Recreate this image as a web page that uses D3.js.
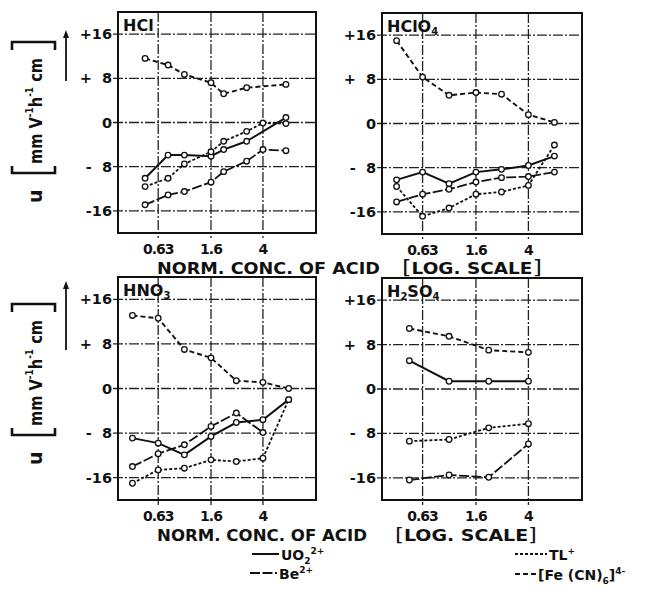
<!DOCTYPE html>
<html>
<head>
<meta charset="utf-8">
<script src="https://cdn.jsdelivr.net/npm/d3@7"></script>
<style>
body { margin: 0; background: #fff; }
svg text { font-family: "DejaVu Sans", sans-serif; fill: #111; font-weight: bold; }
</style>
</head>
<body>
<svg id="chart" width="648" height="602"></svg>
<script>
// axis ticks
var yTicks = [16, 8, 0, -8, -16];
var yTickLabels = ["+16", "+\u20078", "0", "-\u20078", "-16"];
var xTicks = [0.63, 1.6, 4];
var xTickLabels = ["0.63", "1.6", "4"];

// HCl
var hclConc = [0.5, 0.75, 1, 1.6, 2, 3, 4, 6];
var hclUO2  = [-10.1, -5.9, -5.9, -6.1, -4.9, -3.4, null, 0.9];
var hclBe   = [-14.9, -13.1, -12.5, -10.8, -8.9, -7.0, -4.9, -5.1];
var hclTl   = [-11.6, -10.1, -7.5, -5.3, -3.4, -1.6, -0.1, -0.2];
var hclFe   = [11.6, 10.4, 8.7, 7.2, 5.2, 6.3, null, 6.9];

// HClO4
var hclo4Conc = [0.4, 0.63, 1, 1.6, 2.5, 4, 6.3];
var hclo4UO2  = [-10.2, -8.8, -10.9, -8.8, -8.3, -7.6, -5.9];
var hclo4Be   = [-14.2, -12.8, -11.9, -10.6, -9.8, -9.6, -8.8];
var hclo4Tl   = [-11.4, -16.8, -15.3, -12.8, -12.4, -11.2, -3.9];
var hclo4Fe   = [15.0, 8.4, 5.1, 5.6, 5.3, 1.6, 0.2];

// HNO3
var hno3Conc = [0.4, 0.63, 1, 1.6, 2.5, 4, 6.3];
var hno3UO2  = [-8.9, -9.8, -11.9, -8.6, -6.1, -5.6, -2.0];
var hno3Be   = [-14.0, -11.7, -10.1, -6.8, -4.4, -7.9, null];
var hno3Tl   = [-17.0, -14.6, -14.3, -12.8, -13.1, -12.5, -2.0];
var hno3Fe   = [13.1, 12.6, 7.0, 5.5, 1.4, 1.1, 0.0];

// H2SO4
var h2so4Conc = [0.5, 1, 2, 4];
var h2so4UO2  = [5.1, 1.4, 1.4, 1.4];
var h2so4Be   = [-16.4, -15.5, -15.9, -9.9];
var h2so4Tl   = [-9.4, -9.1, -7.0, -6.25];
var h2so4Fe   = [10.9, 9.5, 7.0, 6.6];

var styles = {
    UO2: {dash: null, width: 2},
    Be:  {dash: "10,2.5", width: 1.8},
    Tl:  {dash: "3,2", width: 1.8},
    Fe:  {dash: "5,3", width: 1.9}
};

var panels = [
    {name: "HCl", x: 118, y: 12, w: 198, h: 221, conc: hclConc,
     series: {UO2: hclUO2, Be: hclBe, Tl: hclTl, Fe: hclFe}},
    {name: "HClO4", x: 382, y: 13, w: 200, h: 221, conc: hclo4Conc,
     series: {UO2: hclo4UO2, Be: hclo4Be, Tl: hclo4Tl, Fe: hclo4Fe}},
    {name: "HNO3", x: 118, y: 277, w: 198, h: 223, conc: hno3Conc,
     series: {UO2: hno3UO2, Be: hno3Be, Tl: hno3Tl, Fe: hno3Fe}},
    {name: "H2SO4", x: 382, y: 278, w: 200, h: 222, conc: h2so4Conc,
     series: {UO2: h2so4UO2, Be: h2so4Be, Tl: h2so4Tl, Fe: h2so4Fe}}
];

var svg = d3.select("#chart");

function panelLabel(g, name) {
    var t = g.append("text").attr("x", 5).attr("y", 19).attr("font-size", 16);
    // letters normal, digits as subscripts
    var parts = name.match(/[A-Za-z]+|\d/g);
    var shifted = false;
    parts.forEach(function(p) {
        if (/\d/.test(p)) {
            t.append("tspan").attr("font-size", 10).attr("dy", 3).text(p);
            shifted = true;
        } else {
            t.append("tspan").attr("dy", shifted ? -3 : 0).text(p);
            shifted = false;
        }
    });
}

panels.forEach(function(p) {
    var x = d3.scaleLog().domain([0.31, 10.2]).range([0, p.w]);
    var y = d3.scaleLinear().domain([-20, 20]).range([p.h, 0]);
    var g = svg.append("g").attr("transform", "translate(" + p.x + "," + p.y + ")");

    // grid
    g.selectAll(".hgrid").data(yTicks).enter().append("line")
        .attr("x1", -5).attr("x2", p.w)
        .attr("y1", function(d){ return y(d); }).attr("y2", function(d){ return y(d); })
        .attr("stroke", "#222").attr("stroke-width", 1.3)
        .attr("stroke-dasharray", "10,2,2,2");
    g.selectAll(".vgrid").data(xTicks).enter().append("line")
        .attr("y1", 0).attr("y2", p.h + 5)
        .attr("x1", function(d){ return x(d); }).attr("x2", function(d){ return x(d); })
        .attr("stroke", "#222").attr("stroke-width", 1.3)
        .attr("stroke-dasharray", "10,2,2,2");

    g.append("rect").attr("width", p.w).attr("height", p.h)
        .attr("fill", "none").attr("stroke", "#111").attr("stroke-width", 2);

    // tick labels
    g.selectAll(".ylab").data(yTicks).enter().append("text")
        .attr("x", -6).attr("y", function(d){ return y(d) + 5; })
        .attr("text-anchor", "end").attr("font-size", 14.5)
        .text(function(d, i){ return yTickLabels[i]; });
    g.selectAll(".xlab").data(xTicks).enter().append("text")
        .attr("x", function(d){ return x(d); }).attr("y", p.h + 21)
        .attr("text-anchor", "middle").attr("font-size", 14)
        .attr("letter-spacing", -1)
        .text(function(d, i){ return xTickLabels[i]; });

    panelLabel(g, p.name);

    var line = d3.line()
        .x(function(d){ return x(d[0]); })
        .y(function(d){ return y(d[1]); });

    Object.keys(p.series).forEach(function(key) {
        var pts = p.conc.map(function(c, i){ return [c, p.series[key][i]]; })
            .filter(function(d){ return d[1] !== null; });
        var s = styles[key];
        g.append("path").datum(pts)
            .attr("d", line)
            .attr("fill", "none").attr("stroke", "#111")
            .attr("stroke-width", s.width)
            .attr("stroke-dasharray", s.dash);
        g.selectAll(".pt-" + key).data(pts).enter().append("circle")
            .attr("cx", function(d){ return x(d[0]); })
            .attr("cy", function(d){ return y(d[1]); })
            .attr("r", 2.8)
            .attr("fill", "#fff").attr("stroke", "#111").attr("stroke-width", 1.3);
    });
});

// x axis titles
function xTitle(yPos, len1, x2, len2, bracketSize) {
    svg.append("text").attr("x", 157).attr("y", yPos).attr("font-size", 15)
        .attr("textLength", len1).attr("lengthAdjust", "spacingAndGlyphs")
        .text("NORM. CONC. OF ACID");
    var t = svg.append("text").attr("x", x2).attr("y", yPos).attr("font-size", 15)
        .attr("textLength", len2).attr("lengthAdjust", "spacingAndGlyphs");
    t.append("tspan").attr("font-size", bracketSize).attr("font-weight", "normal").text("[");
    t.append("tspan").text("LOG. SCALE");
    t.append("tspan").attr("font-size", bracketSize).attr("font-weight", "normal").text("]");
}
xTitle(274, 223, 402, 140, 20);
xTitle(541, 210, 395, 142, 18);

// y axis labels
function yLabel(cy, arrowTop, arrowBottom) {
    var g = svg.append("g").attr("transform", "translate(43," + cy + ") rotate(-90)");
    g.append("text").attr("x", -5).attr("y", -1).attr("font-size", 19).text("u");
    g.append("path").attr("d", "M32,-31 H25 V12 H32")
        .attr("fill", "none").attr("stroke", "#111").attr("stroke-width", 2.6);
    g.append("path").attr("d", "M148,-31 H156 V12 H148")
        .attr("fill", "none").attr("stroke", "#111").attr("stroke-width", 2.6);
    var t = g.append("text").attr("x", 34).attr("y", -1).attr("font-size", 18)
        .attr("textLength", 106).attr("lengthAdjust", "spacingAndGlyphs");
    t.append("tspan").text("mm V");
    t.append("tspan").attr("font-size", 11).attr("dy", -9).text("-1");
    t.append("tspan").attr("dy", 9).text("h");
    t.append("tspan").attr("font-size", 11).attr("dy", -9).text("-1");
    t.append("tspan").attr("dy", 9).text(" cm");

    svg.append("line").attr("x1", 66).attr("x2", 66)
        .attr("y1", arrowTop + 4).attr("y2", arrowBottom)
        .attr("stroke", "#111").attr("stroke-width", 1.8);
    svg.append("path")
        .attr("d", "M66," + arrowTop + " L63," + (arrowTop + 8) + " L69," + (arrowTop + 8) + " Z")
        .attr("fill", "#111");
}
yLabel(198, 30, 81);
yLabel(460, 281, 350);

// legend
var legend = [
    {key: "UO2", x: 252, y: 554, len: 27, text: ["UO", "2", "", "2+"]},
    {key: "Be",  x: 250, y: 573, len: 27, text: ["Be", "", "", "2+"]},
    {key: "Tl",  x: 515, y: 554, len: 32, text: ["TL", "", "", "+"]},
    {key: "Fe",  x: 515, y: 574, len: 21, text: ["[Fe (CN)", "6", "]", "4-"]}
];
legend.forEach(function(d) {
    var s = styles[d.key];
    svg.append("line").attr("x1", d.x).attr("x2", d.x + d.len)
        .attr("y1", d.y).attr("y2", d.y)
        .attr("stroke", "#111").attr("stroke-width", s.width)
        .attr("stroke-dasharray", s.dash);
    var t = svg.append("text").attr("x", d.x + d.len + 2).attr("y", d.y + 6).attr("font-size", 14);
    t.append("tspan").text(d.text[0]);
    var dy = 0;
    if (d.text[1]) {
        t.append("tspan").attr("font-size", 9).attr("dy", 4).text(d.text[1]);
        dy = 4;
    }
    if (d.text[2]) {
        t.append("tspan").attr("dy", -dy).text(d.text[2]);
        dy = 0;
    }
    t.append("tspan").attr("font-size", 9).attr("dy", -6 - dy).text(d.text[3]);
});
</script>
</body>
</html>
